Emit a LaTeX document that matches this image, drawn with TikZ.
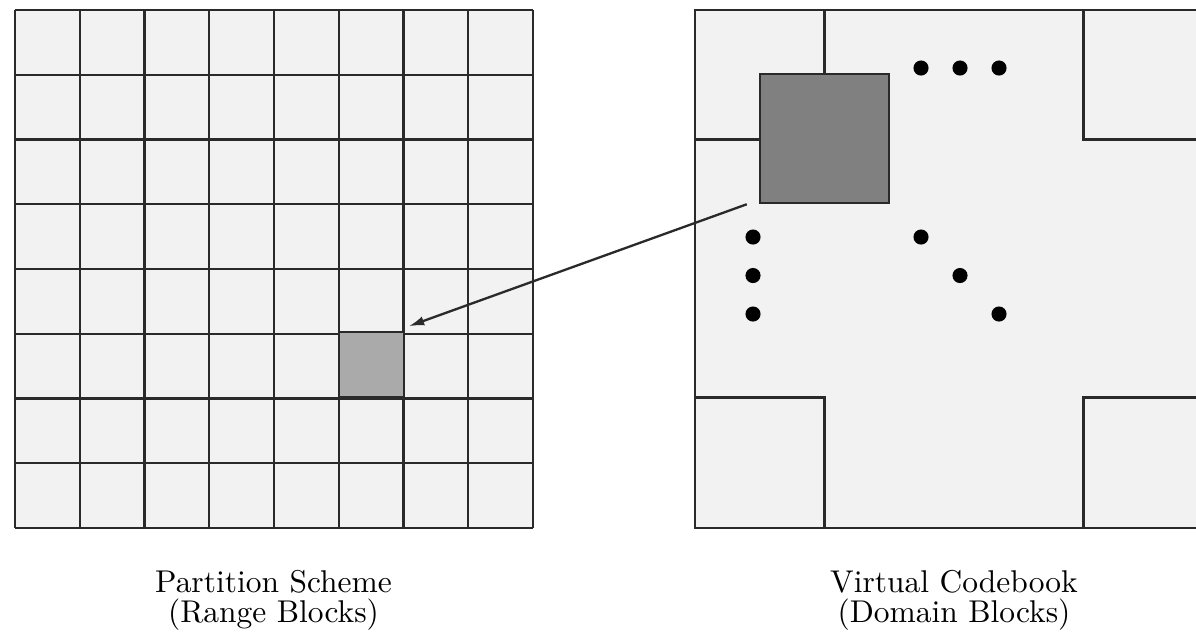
\documentclass[tikz,border=0pt]{standalone}
\usetikzlibrary{arrows.meta}
\definecolor{panel}{HTML}{F2F2F2}
\definecolor{rngfill}{HTML}{AAAAAA}
\definecolor{domfill}{HTML}{808080}
\definecolor{edge}{HTML}{2A2A2A}
\tikzset{
  px/.style={x=0.324pt,y=-0.324pt},
  gridline/.style={draw=edge,line width=0.75pt},
  rngbox/.style={draw=edge,line width=0.75pt,fill=rngfill,minimum size=20.98pt,inner sep=0pt,outer sep=0pt},
  dombox/.style={draw=edge,line width=0.75pt,fill=domfill,minimum size=41.96pt,inner sep=0pt,outer sep=0pt},
  dot/.style={circle,fill=black,minimum size=4.9pt,inner sep=0pt},
  caption/.style={align=center,font=\fontsize{10.2}{9.7}\selectfont,anchor=base},
  link/.style={draw=edge,line width=0.75pt,-{Latex[length=5pt,width=3pt]}}
}
\begin{document}
\begin{tikzpicture}[px]
\useasboundingbox (0,0) rectangle (1196,632);
\begin{scope}
\clip (0,0) rectangle (1196,632);
% left grid
\fill[panel] (15,10) rectangle (533,528);
\foreach \i in {0,...,8} {
  \draw[gridline] ({15+64.75*\i},10) -- ({15+64.75*\i},528);
  \draw[gridline] (15,{10+64.75*\i}) -- (533,{10+64.75*\i});
}
\node[rngbox] (rng) at (371.4,364.6) {};
% right panel
\fill[panel] (695,10) rectangle (1213,528);
\draw[gridline] (1213,10) -- (695,10) -- (695,528) -- (1213,528);
\draw[gridline] (824.5,10) -- (824.5,74);
\draw[gridline] (695,139.5) -- (760,139.5);
\draw[gridline] (1083.5,10) -- (1083.5,139.5) -- (1213,139.5);
\draw[gridline] (695,397.5) -- (824.5,397.5) -- (824.5,528);
\draw[gridline] (1213,397.5) -- (1083.5,397.5) -- (1083.5,528);
\node[dombox] (dom) at (824.5,138.5) {};
% dots
\node[dot] (d1) at (921,68) {};
\node[dot] (d2) at (960,68) {};
\node[dot] (d3) at (999,68) {};
\node[dot] (d4) at (753,237) {};
\node[dot] (d5) at (753,275.5) {};
\node[dot] (d6) at (753,314) {};
\node[dot] (d7) at (921,237) {};
\node[dot] (d8) at (960,275.5) {};
\node[dot] (d9) at (999,314) {};
% arrow
\draw[link] ([xshift=-13*0.324pt,yshift=-0.324pt]dom.south west) -- ([xshift=5*0.324pt,yshift=6*0.324pt]rng.north east);
\end{scope}
% captions
\node[caption] (cap1) at (273.5,622) {Partition Scheme\\(Range Blocks)};
\node[caption] (cap2) at (954,622) {Virtual Codebook\\(Domain Blocks)};
\end{tikzpicture}
\end{document}
